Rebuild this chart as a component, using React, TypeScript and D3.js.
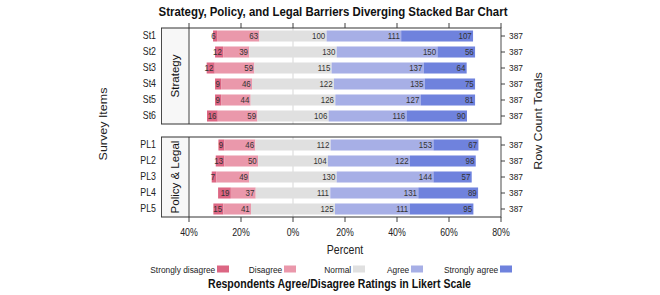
import React from 'react';
import * as d3 from 'd3';

// Likert levels and colours
const levels = ['Strongly disagree', 'Disagree', 'Normal', 'Agree', 'Strongly agree'];
const levelColors = ['#dc6683', '#ea98ab', '#e0e0e0', '#a7afe6', '#6f82dd'];

// Strategy panel
const strategyItems = ['St1', 'St2', 'St3', 'St4', 'St5', 'St6'];
const strategyStronglyDisagree = [6, 12, 12, 9, 9, 16];
const strategyDisagree = [63, 39, 59, 46, 44, 59];
const strategyNormal = [100, 130, 115, 122, 126, 106];
const strategyAgree = [111, 150, 137, 135, 127, 116];
const strategyStronglyAgree = [107, 56, 64, 75, 81, 90];

// Policy & Legal panel
const policyItems = ['PL1', 'PL2', 'PL3', 'PL4', 'PL5'];
const policyStronglyDisagree = [9, 13, 7, 19, 15];
const policyDisagree = [46, 50, 49, 37, 41];
const policyNormal = [112, 104, 130, 111, 125];
const policyAgree = [153, 122, 144, 131, 111];
const policyStronglyAgree = [67, 98, 57, 89, 95];

const xTicks = [-40, -20, 0, 20, 40, 60, 80];

// the reference is squeezed horizontally, so draw in a wider box and squash it
const SQUASH = 0.88;
const W = 660 / SQUASH;
const H = 295;
const vx = (real: number) => real / SQUASH;

const FONT = '"Liberation Sans", Arial, sans-serif';

const panelLeft = vx(189);
const panelRight = vx(501);
const stripLeft = vx(161.5);

const x = d3.scaleLinear().domain([-40, 80]).range([panelLeft, panelRight]);

const panels = [
  {
    name: 'Strategy',
    items: strategyItems,
    series: [strategyStronglyDisagree, strategyDisagree, strategyNormal, strategyAgree, strategyStronglyAgree],
    top: 28,
    bottom: 124,
  },
  {
    name: 'Policy & Legal',
    items: policyItems,
    series: [policyStronglyDisagree, policyDisagree, policyNormal, policyAgree, policyStronglyAgree],
    top: 137,
    bottom: 217,
  },
];

// split a row into diverging segments (neutral halved around zero)
const segmentsFor = (vals: number[]) => {
  const total = d3.sum(vals);
  const pct = vals.map((v) => (v / total) * 100);
  let start = -(pct[0] + pct[1] + pct[2] / 2);
  return vals.map((v, i) => {
    const seg = { x0: start, x1: start + pct[i], count: v, level: i };
    start += pct[i];
    return seg;
  });
};

const legendBoxX = [217, 284, 353, 411, 500];

const App = () => {
  return (
    <svg
      width={660}
      height={H}
      viewBox={`0 0 ${W} ${H}`}
      preserveAspectRatio="none"
      style={{ display: 'block', position: 'absolute', left: 0, top: 0, background: '#fff' }}
      fontFamily={FONT}
    >
      <text x={vx(333)} y={16} textAnchor="middle" fontSize={13} fontWeight="bold" fill="#111">
        Strategy, Policy, and Legal Barriers Diverging Stacked Bar Chart
      </text>

      {/* top ticks */}
      {xTicks.map((t) => (
        <line key={'tt' + t} x1={x(t)} x2={x(t)} y1={panels[0].top} y2={panels[0].top - 5} stroke="#333" />
      ))}

      {panels.map((p) => {
        const y = d3
          .scaleBand<string>()
          .domain(p.items)
          .range([p.top, p.bottom])
          .paddingInner(0.31)
          .paddingOuter(0.155);
        return (
          <g key={p.name}>
            <rect x={stripLeft} y={p.top} width={panelLeft - stripLeft} height={p.bottom - p.top} fill="#f7f7f7" />
            <line x1={x(0)} x2={x(0)} y1={p.top} y2={p.bottom} stroke="#d4d4d4" />
            {p.items.map((item, r) => {
              const vals = p.series.map((s) => s[r]);
              const segs = segmentsFor(vals);
              const yy = y(item)!;
              const cy = yy + y.bandwidth() / 2;
              return (
                <g key={item}>
                  {segs.map((s) => (
                    <rect
                      key={s.level}
                      x={x(s.x0)}
                      y={yy}
                      width={x(s.x1) - x(s.x0)}
                      height={y.bandwidth()}
                      fill={levelColors[s.level]}
                    />
                  ))}
                  {segs.map((s) => (
                    <text
                      key={'l' + s.level}
                      x={x(s.x1) - 1.5}
                      y={cy + 3.2}
                      textAnchor="end"
                      fontSize={9}
                      fill="#333"
                    >
                      {s.count}
                    </text>
                  ))}
                  <text x={vx(156)} y={cy + 3.5} textAnchor="end" fontSize={10} fill="#222">
                    {item}
                  </text>
                  <line x1={panelRight} x2={panelRight + vx(4)} y1={cy} y2={cy} stroke="#333" />
                  <text x={vx(509)} y={cy + 3.5} fontSize={9.5} fill="#222">
                    {d3.sum(vals)}
                  </text>
                </g>
              );
            })}
            <rect
              x={stripLeft}
              y={p.top}
              width={panelRight - stripLeft}
              height={p.bottom - p.top}
              fill="none"
              stroke="#333"
            />
            <line x1={panelLeft} x2={panelLeft} y1={p.top} y2={p.bottom} stroke="#333" />
            <text
              transform={`translate(${(stripLeft + panelLeft) / 2 + 4.5},${(p.top + p.bottom) / 2}) rotate(-90)`}
              textAnchor="middle"
              fontSize={11.5}
              fill="#111"
            >
              {p.name}
            </text>
          </g>
        );
      })}

      {/* bottom axis */}
      {xTicks.map((t) => (
        <g key={'bt' + t}>
          <line x1={x(t)} x2={x(t)} y1={panels[1].bottom} y2={panels[1].bottom + 5} stroke="#333" />
          <text x={x(t)} y={236} textAnchor="middle" fontSize={10} fill="#222">
            {Math.abs(t)}%
          </text>
        </g>
      ))}
      <text x={x(20)} y={254} textAnchor="middle" fontSize={12} fill="#222">
        Percent
      </text>

      <text transform={`translate(${vx(107)},124) rotate(-90)`} textAnchor="middle" fontSize={12.5} fill="#222">
        Survey Items
      </text>
      <text transform={`translate(${vx(542)},121) rotate(-90)`} textAnchor="middle" fontSize={12.5} fill="#222">
        Row Count Totals
      </text>

      {/* legend */}
      {levels.map((lv, i) => (
        <g key={lv}>
          <text x={vx(legendBoxX[i]) - 2} y={273} textAnchor="end" fontSize={9.5} fill="#222">
            {lv}
          </text>
          <rect x={vx(legendBoxX[i])} y={265.5} width={vx(12)} height={7} fill={levelColors[i]} />
        </g>
      ))}
      <text x={vx(339.5)} y={288} textAnchor="middle" fontSize={12} fontWeight="bold" fill="#111">
        Respondents Agree/Disagree Ratings in Likert Scale
      </text>
    </svg>
  );
};

export default App;
